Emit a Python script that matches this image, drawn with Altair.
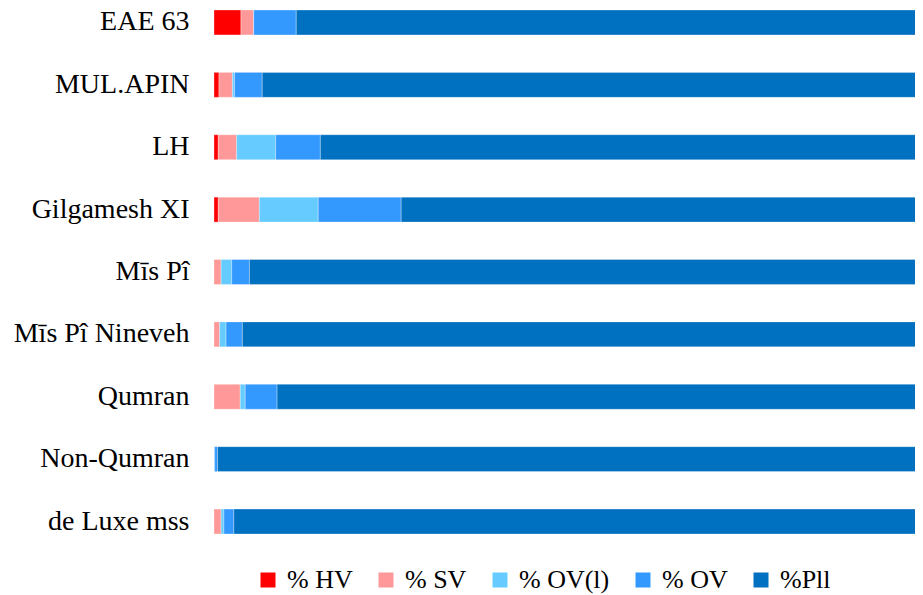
import altair as alt
import pandas as pd

categories = ["EAE 63", "MUL.APIN", "LH", "Gilgamesh XI", "Mīs Pî",
              "Mīs Pî Nineveh", "Qumran", "Non-Qumran", "de Luxe mss"]
series = ["% HV", "% SV", "% OV(l)", "% OV", "%Pll"]
colors = ["#ff0000", "#ff9999", "#66ccff", "#3399ff", "#0070c0"]

hv = [3.8, 0.7, 0.6, 0.6, 0.0, 0.0, 0.0, 0.0, 0.0]
sv = [1.8, 1.9, 2.6, 5.8, 1.0, 0.8, 3.7, 0.0, 1.0]
ovl = [0.0, 0.3, 5.5, 8.3, 1.5, 0.9, 0.7, 0.1, 0.4]
ov = [6.0, 3.9, 6.3, 11.7, 2.5, 2.3, 4.5, 0.4, 1.4]
pll = [88.4, 93.2, 85.0, 73.6, 95.0, 96.0, 91.1, 99.5, 97.2]

rows = []
for i, c in enumerate(categories):
    for j, (s, vals) in enumerate(zip(series, [hv, sv, ovl, ov, pll])):
        rows.append({"cat": c, "series": s, "value": vals[i], "idx": j})
df = pd.DataFrame(rows)

font = "Liberation Serif"

chart = alt.Chart(df).mark_bar(stroke="white", strokeWidth=0.5, strokeOpacity=0.6).encode(
    y=alt.Y("cat:N", sort=categories,
            scale=alt.Scale(paddingInner=0.6, paddingOuter=0),
            axis=alt.Axis(title=None, ticks=False, domain=False, labelFont=font,
                          labelFontSize=28, labelColor="black", labelPadding=25)),
    x=alt.X("value:Q", stack="zero", scale=alt.Scale(domain=[0, 100], range=[0, 709]),
            axis=None),
    color=alt.Color("series:N", sort=series,
                    scale=alt.Scale(domain=series, range=colors),
                    legend=alt.Legend(orient="none", legendX=41, legendY=557,
                                      direction="horizontal", title=None,
                                      symbolType="square", symbolSize=225,
                                      symbolStrokeWidth=0, labelFont=font,
                                      labelFontSize=26, labelColor="black",
                                      columnPadding=20, labelOffset=6)),
    order=alt.Order("idx:Q"),
).properties(
    width=701, height=524,
    autosize=alt.AutoSizeParams(type="none"),
    padding={"left": 206, "top": 2, "right": 0, "bottom": 61},
).configure_view(stroke=None)

chart.save("out.html", embed_options={"renderer": "svg", "actions": False})
